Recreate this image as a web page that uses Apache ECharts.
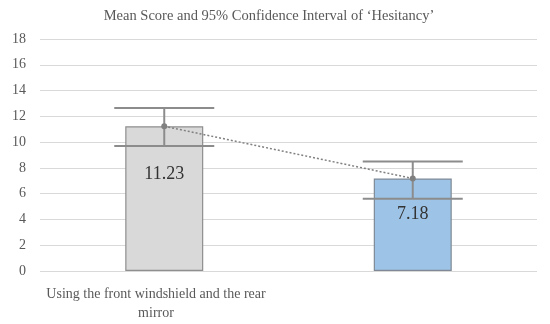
<!DOCTYPE html>
<html>
<head>
<meta charset="utf-8">
<script src="https://cdn.jsdelivr.net/npm/echarts@6/dist/echarts.min.js"></script>
<style>html,body{margin:0;padding:0;background:#fff;}#c{width:550px;height:324px;}</style>
</head>
<body>
<div id="c"></div>
<script>
var categories = ['Using the front windshield and the rear\nmirror', 'New SA aiding system'];
var means = [11.23, 7.18];
var ciLow = [9.7, 5.6];
var ciHigh = [12.65, 8.5];
var yTicks = [0, 2, 4, 6, 8, 10, 12, 14, 16, 18];

var barColors = ['#d9d9d9', '#9dc3e6'];
var barBorders = ['#8f8f8f', '#7f8a96'];
var labelDist = [39, 27];

var chart = echarts.init(document.getElementById('c'), null, {renderer: 'canvas'});
var serif = '"Liberation Serif", "DejaVu Serif", serif';

var option = {
  animation: false,
  backgroundColor: '#ffffff',
  title: {
    text: 'Mean Score and 95% Confidence Interval of \u2018Hesitancy\u2019',
    left: 264, top: 4, textAlign: 'center',
    textStyle: {fontFamily: serif, fontSize: 14.5, fontWeight: 'normal', color: '#595959'}
  },
  grid: [
    {left: 40, right: 13, top: 39, bottom: 53},
    {left: 38, right: 40, top: 39, bottom: 53}
  ],
  xAxis: [
    {type: 'category', gridIndex: 0, data: categories,
     axisLine: {show: false}, axisTick: {show: false}, axisLabel: {show: false}},
    {type: 'category', gridIndex: 1, data: categories,
     axisLine: {show: false}, axisTick: {show: false},
     axisLabel: {fontFamily: serif, fontSize: 14, color: '#595959', margin: 14, lineHeight: 19}}
  ],
  yAxis: [
    {type: 'value', gridIndex: 0, min: yTicks[0], max: yTicks[yTicks.length - 1], interval: 2,
     axisLine: {show: false}, axisTick: {show: false},
     axisLabel: {fontFamily: serif, fontSize: 14, color: '#595959', margin: 14},
     splitLine: {lineStyle: {color: '#d9d9d9', width: 1}}},
    {type: 'value', gridIndex: 1, min: 0, max: 18, show: false}
  ],
  series: [
    {
      type: 'bar', xAxisIndex: 0, yAxisIndex: 0, barWidth: 78,
      data: means.map(function (v, i) {
        return {
          value: v,
          itemStyle: {color: barColors[i], borderColor: barBorders[i], borderWidth: 1.2},
          label: {show: true, position: 'insideTop', distance: labelDist[i],
                  formatter: function (p) { return p.value.toFixed(2); },
                  fontFamily: serif, fontSize: 18, color: '#333333'}
        };
      }),
      z: 2
    },
    {
      type: 'custom', xAxisIndex: 0, yAxisIndex: 0,
      data: means.map(function (v, i) { return [i, ciLow[i], ciHigh[i]]; }),
      renderItem: function (params, api) {
        var x = api.value(0);
        var lo = api.coord([x, api.value(1)]);
        var hi = api.coord([x, api.value(2)]);
        var hw = 50;
        var st = {stroke: '#8c8c8c', lineWidth: 2};
        return {
          type: 'group',
          children: [
            {type: 'line', shape: {x1: hi[0], y1: hi[1], x2: lo[0], y2: lo[1]}, style: st},
            {type: 'line', shape: {x1: hi[0] - hw, y1: hi[1], x2: hi[0] + hw, y2: hi[1]}, style: st},
            {type: 'line', shape: {x1: lo[0] - hw, y1: lo[1], x2: lo[0] + hw, y2: lo[1]}, style: st}
          ]
        };
      },
      z: 3
    },
    {
      type: 'line', xAxisIndex: 0, yAxisIndex: 0, data: means,
      symbol: 'circle', symbolSize: 6,
      itemStyle: {color: '#808080'},
      lineStyle: {color: '#808080', width: 1.5, type: [2, 2]},
      z: 4
    }
  ]
};
chart.setOption(option);
</script>
</body>
</html>
